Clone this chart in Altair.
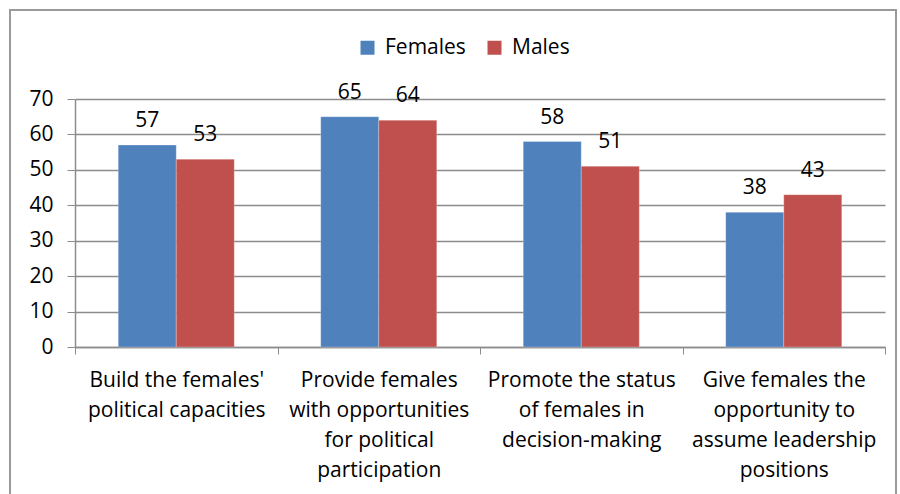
import altair as alt
import pandas as pd

# Survey results: share of respondents (%) by statement and gender
categories = [
    "Build the females'|political capacities",
    "Provide females|with opportunities|for political|participation",
    "Promote the status|of females in|decision-making",
    "Give females the|opportunity to|assume leadership|positions",
]
females = [57, 65, 58, 38]
males = [53, 64, 51, 43]
groups = ["Females", "Males"]
colors = ["#4F81BD", "#C0504D"]
y_ticks = [0, 10, 20, 30, 40, 50, 60, 70]

rows = []
for cat, f, m in zip(categories, females, males):
    rows.append({"category": cat, "group": "Females", "value": f})
    rows.append({"category": cat, "group": "Males", "value": m})
df = pd.DataFrame(rows)

FONT = "Open Sans"
FS = 21
GRID = "#8c8c8c"

x_enc = alt.X(
    "category:N",
    sort=categories,
    title=None,
    scale=alt.Scale(paddingInner=0, paddingOuter=0),
    axis=alt.Axis(
        labelExpr="split(datum.label, '|')",
        labelAngle=0,
        labelFontSize=FS,
        labelFont=FONT,
        labelColor="#000000",
        labelLineHeight=30,
        labelPadding=15,
        labelLimit=0,
        tickBand="extent",
        tickSize=7,
        tickColor=GRID,
        domainColor=GRID,
        domainWidth=1.5,
        grid=False,
    ),
)
offset_enc = alt.XOffset(
    "group:N", sort=groups, scale=alt.Scale(paddingInner=0, paddingOuter=0.745)
)
y_enc = alt.Y(
    "value:Q",
    title=None,
    scale=alt.Scale(domain=[0, 70]),
    axis=alt.Axis(
        values=y_ticks,
        labelOverlap=False,
        labelFontSize=FS,
        labelFont=FONT,
        labelColor="#000000",
        labelPadding=14,
        tickSize=8,
        tickColor=GRID,
        gridColor=GRID,
        gridWidth=1.5,
        domainColor=GRID,
        domainWidth=1.5,
    ),
)

base = alt.Chart(df).encode(x=x_enc, xOffset=offset_enc, y=y_enc)

bars = base.mark_bar(stroke="#ffffff", strokeWidth=0.5, strokeOpacity=0.5).encode(
    color=alt.Color(
        "group:N",
        sort=groups,
        scale=alt.Scale(domain=groups, range=colors),
        legend=alt.Legend(
            title=None,
            orient="none",
            legendX=282,
            legendY=-62,
            direction="horizontal",
            symbolType="square",
            symbolSize=196,
            symbolStrokeWidth=0,
            labelFontSize=FS,
            labelFont=FONT,
            labelColor="#000000",
            labelOffset=7,
            columnPadding=18,
        ),
    ),
)

labels = base.mark_text(
    fontSize=FS, font=FONT, color="#000000", baseline="alphabetic", dy=-18
).encode(text="value:Q")

# outer frame around the whole figure
frame = alt.Chart(df).mark_rect(
    fill=None, stroke="#9a9a9a", strokeWidth=1.5
).encode(
    x=alt.value(-65), x2=alt.value(821), y=alt.value(-89), y2=alt.value(420)
)

chart = (
    alt.layer(frame, bars, labels)
    .properties(
        width=810,
        height=248,
        autosize=alt.AutoSizeParams(type="none"),
        padding={"left": 75, "top": 99, "right": 15, "bottom": 147},
        background="#ffffff",
    )
    .configure_view(stroke=None)
)

chart.save("out.html", embed_options={"renderer": "svg", "actions": False})
